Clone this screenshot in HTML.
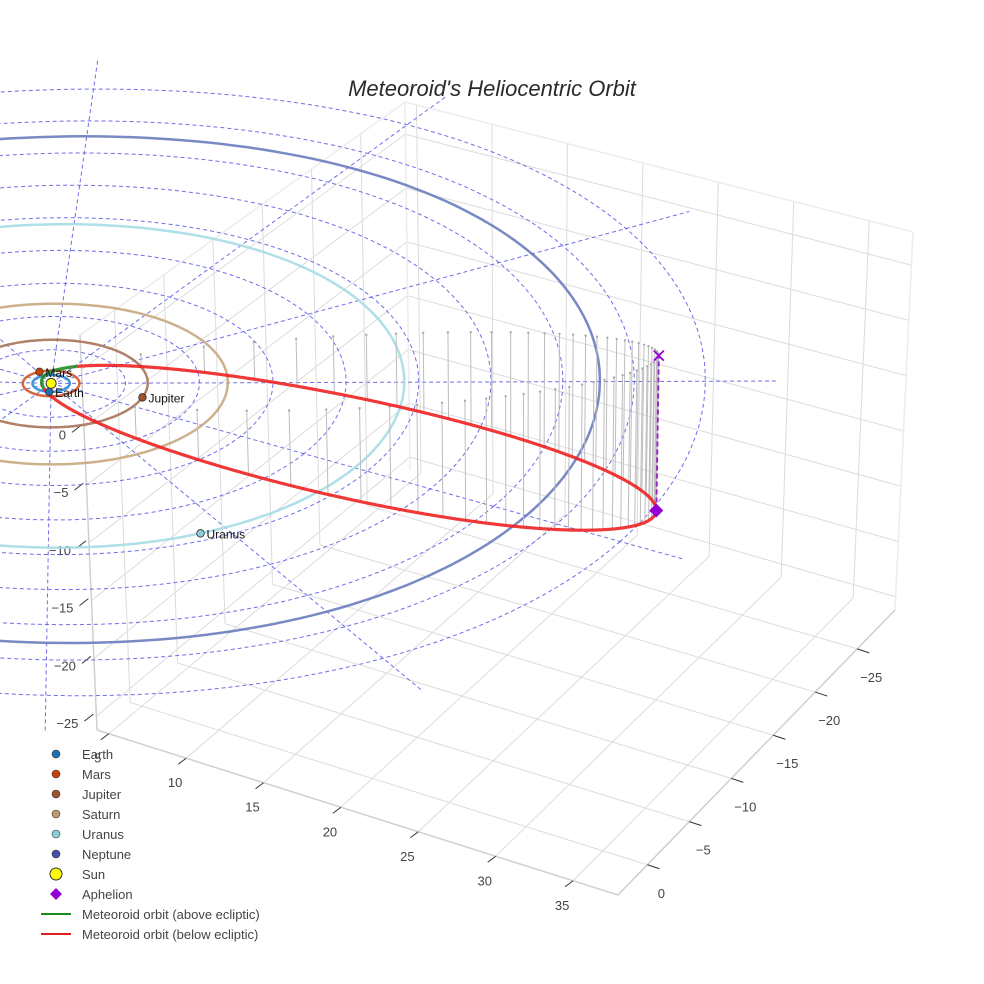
<!DOCTYPE html>
<html><head><meta charset="utf-8">
<style>
html,body{margin:0;padding:0;background:#fff;}
svg{display:block;font-family:"Liberation Sans",Arial,sans-serif;}
</style></head>
<body>
<svg id="chart" width="984" height="984" viewBox="0 0 984 984" xmlns="http://www.w3.org/2000/svg">
<rect width="984" height="984" fill="#fff"/>
<g id="walls"></g>
<g id="axes"></g>
<g id="ecl"></g>
<g id="orbits"></g>
<g id="drops"></g>
<g id="met"></g>
<g id="marks"></g>
<text x="492" y="96" text-anchor="middle" font-size="22" font-style="italic" fill="#2a2a2a">Meteoroid's Heliocentric Orbit</text>
<g id="legend"></g>
</svg>
<script>
const xTicks=[5,10,15,20,25,30,35];
const yTicks=[-25,-20,-15,-10,-5,0];
const zTicks=[-25,-20,-15,-10,-5,0,5];
const planetNames=["Earth","Mars","Jupiter","Saturn","Uranus","Neptune"];
const planetRadii=[1.0,1.52,5.2,9.54,19.2,30.07];
const planetAngles=[64,-146.5,-12.7,180,34.2,150];
const planetColors=["#1f72b2","#c8400c","#a0522d","#c09a70","#8ccbd9","#4352a8"];
const orbitColors=["#2b8ad6","#d0582a","#a8735a","#c8a880","#a6dce4","#6a7cbd"];
const eclipticRings=[4,8,12,16,20,24,28,32,36];
const eclipticSpokes=[0,30,60,90,120,150,180,210,240,270,300,330];
const meteoroidPerihelion=0.55;
const aphelionPoint=[27.3,-19.4,-13.75];
const orbitPlaneDir=[0.467,0.844,-0.264];
const dropCount=60;

const NS="http://www.w3.org/2000/svg";
const R={x0:4.24,x1:37.9,y0:-29.5,y1:3.5,z0:-26.2,z1:8};
const Cn={D:[410,470],C:[895,610],A:[97,730],B:[618,895],G:[405,102],H:[913,232],E:[80,335],F:[620,480]};
function proj(X,Y,Z){
  const u=(X-R.x0)/(R.x1-R.x0), v=(Y-R.y0)/(R.y1-R.y0), w=(Z-R.z0)/(R.z1-R.z0);
  const wD=(1-u)*(1-v), wC=u*(1-v), wA=(1-u)*v, wB=u*v;
  const f=i=>wD*Cn.D[i]+wC*Cn.C[i]+wA*Cn.A[i]+wB*Cn.B[i];
  const t=i=>wD*Cn.G[i]+wC*Cn.H[i]+wA*Cn.E[i]+wB*Cn.F[i];
  return [f(0)+w*(t(0)-f(0)), f(1)+w*(t(1)-f(1))];
}
function mk(tag,attrs,parent){const e=document.createElementNS(NS,tag);for(const k in attrs)e.setAttribute(k,attrs[k]);parent.appendChild(e);return e;}
function pathOf(pts){return pts.map((p,i)=>(i?"L":"M")+p[0].toFixed(1)+" "+p[1].toFixed(1)).join("");}
function line3(a,b,attrs,parent){const p=proj(...a),q=proj(...b);return mk("line",Object.assign({x1:p[0],y1:p[1],x2:q[0],y2:q[1]},attrs),parent);}

// walls
const walls=document.getElementById("walls");
const gs={stroke:"#dcdcdc","stroke-width":1};
xTicks.forEach(x=>{
  let l=line3([x,R.y0,R.z0],[x,R.y1,R.z0],gs,walls);
  
  
  l=line3([x,R.y0,R.z0],[x,R.y0,R.z1],gs,walls);
  
  
});
yTicks.forEach(y=>{
  let l=line3([R.x0,y,R.z0],[R.x1,y,R.z0],gs,walls);
  
  
  l=line3([R.x0,y,R.z0],[R.x0,y,R.z1],gs,walls);
  
  
});
zTicks.forEach(z=>{
  let l=line3([R.x0,R.y0,z],[R.x1,R.y0,z],gs,walls);
  
  
  l=line3([R.x0,R.y0,z],[R.x0,R.y1,z],gs,walls);
  
  
});
const es={stroke:"#ececec","stroke-width":1.5};
[[[R.x0,R.y0,R.z1],[R.x1,R.y0,R.z1]],[[R.x1,R.y0,R.z0],[R.x1,R.y0,R.z1]],[[R.x0,R.y0,R.z1],[R.x0,R.y1,R.z1]],[[R.x0,R.y0,R.z0],[R.x0,R.y0,R.z1]]].forEach(e=>{
  const l=line3(e[0],e[1],es,walls);
  
  
});

// axes
const axes=document.getElementById("axes");
const as={stroke:"#cfcfcf","stroke-width":1.5};
[[[R.x0,R.y1,R.z0],[R.x1,R.y1,R.z0]],[[R.x1,R.y0,R.z0],[R.x1,R.y1,R.z0]],[[R.x0,R.y1,R.z0],[R.x0,R.y1,R.z1]]].forEach(e=>{
  const l=line3(e[0],e[1],as,axes);
  
  
});
function tickText(p,txt,dx,dy,anchor,name){
  const t=mk("text",{x:p[0]+dx,y:p[1]+dy,"text-anchor":anchor,"font-size":13,fill:"#444"},axes);
  t.textContent=txt;
  
  
}
function fmt(v){return v<0?"\u2212"+Math.abs(v):String(v);}
xTicks.forEach(x=>{
  const p=proj(x,R.y1,R.z0);
  const d=mk("line",{x1:p[0],y1:p[1],x2:p[0]-8,y2:p[1]+6,stroke:"#333","stroke-width":1},axes);
  
  
  tickText(p,fmt(x),-11,29,"middle",'x-tick-label');
});
yTicks.forEach(y=>{
  const p=proj(R.x1,y,R.z0);
  const d=mk("line",{x1:p[0],y1:p[1],x2:p[0]+12,y2:p[1]+4,stroke:"#333","stroke-width":1},axes);
  
  
  tickText(p,fmt(y),14,33,"middle",'y-tick-label');
});
zTicks.filter(z=>z<=0).forEach(z=>{
  const p=proj(R.x0,R.y1,z);
  const d=mk("line",{x1:p[0]-3,y1:p[1]-2,x2:p[0]-12,y2:p[1]+5,stroke:"#333","stroke-width":1},axes);
  
  
  tickText(p,fmt(z),-18,12,"end",'z-tick-label');
});

// ecliptic grid
const ecl=document.getElementById("ecl");
const ds={fill:"none",stroke:"#5555e6","stroke-width":1,"stroke-dasharray":"4,3",opacity:0.85};
eclipticRings.forEach(r=>{
  const pts=[];for(let i=0;i<=180;i++){const a=i/180*2*Math.PI;pts.push(proj(r*Math.cos(a),r*Math.sin(a),0));}
  const p=mk("path",Object.assign({d:pathOf(pts)},ds),ecl);
  
  
});
eclipticSpokes.forEach(a=>{
  const rr=40,t=a*Math.PI/180;
  const p=mk("path",Object.assign({d:pathOf([proj(0,0,0),proj(rr*Math.cos(t),rr*Math.sin(t),0)])},ds),ecl);
  
  
});

// planet orbits
const orbits=document.getElementById("orbits");
planetRadii.forEach((r,k)=>{
  const pts=[];for(let i=0;i<=240;i++){const a=i/240*2*Math.PI;pts.push(proj(r*Math.cos(a),r*Math.sin(a),0));}
  const p=mk("path",{d:pathOf(pts),fill:"none",stroke:orbitColors[k],"stroke-width":2.5,opacity:0.9},orbits);
  
  
});

// meteoroid orbit
const Q=Math.hypot(...aphelionPoint);
const q=meteoroidPerihelion;
const a=(Q+q)/2, e=(Q-q)/(Q+q), b=a*Math.sqrt(1-e*e);
const pH=aphelionPoint.map(c=>-c/Q);
function orbitAt(E){const c=a*(Math.cos(E)-e), s=b*Math.sin(E);return [0,1,2].map(i=>c*pH[i]+s*orbitPlaneDir[i]);}
const drops=document.getElementById("drops");
for(let k=0;k<dropCount;k++){
  const M=2*Math.PI*k/dropCount;let E=M;for(let it=0;it<60;it++)E=M+e*Math.sin(E);
  const P=orbitAt(E);
  const l=line3(P,[P[0],P[1],0],{stroke:"#bdbdbd","stroke-width":1},drops);
  
  
  const t=proj(P[0],P[1],0);
  const c=mk("circle",{cx:t[0],cy:t[1],r:1.2,fill:"#aaa"},drops);
  
  
}
const met=document.getElementById("met");
let seg=[],segUp=null;
function flush(){if(seg.length>1){const p=mk("path",{d:pathOf(seg),fill:"none",stroke:segUp?"#1a8a1a":"#ee1c1c","stroke-width":3.2,opacity:0.88,"stroke-linejoin":"round"},met);
  
  }}
for(let i=0;i<=1440;i++){
  const E=i/1440*2*Math.PI;const P=orbitAt(E);const up=P[2]>=0;const s=proj(...P);
  if(segUp!==null&&up!==segUp){seg.push(s);flush();seg=[seg[seg.length-1]];}
  segUp=up;seg.push(s);
}
flush();

// markers
const marks=document.getElementById("marks");
const ap=proj(...aphelionPoint), ax=proj(aphelionPoint[0],aphelionPoint[1],0);
let al=mk("line",{x1:ap[0],y1:ap[1],x2:ax[0],y2:ax[1],stroke:"#9a22c8","stroke-width":2,"stroke-dasharray":"5,3"},marks);


let xm=mk("path",{d:`M${ax[0]-5} ${ax[1]-5}L${ax[0]+5} ${ax[1]+5}M${ax[0]+5} ${ax[1]-5}L${ax[0]-5} ${ax[1]+5}`,stroke:"#9400d3","stroke-width":1.8},marks);


let dm=mk("path",{d:`M${ap[0]} ${ap[1]-7}L${ap[0]+7} ${ap[1]}L${ap[0]} ${ap[1]+7}L${ap[0]-7} ${ap[1]}Z`,fill:"#9400d3"},marks);


planetRadii.forEach((r,k)=>{
  const t=planetAngles[k]*Math.PI/180;const p=proj(r*Math.cos(t),r*Math.sin(t),0);
  const c=mk("circle",{cx:p[0],cy:p[1],r:3.8,fill:planetColors[k],stroke:"#333","stroke-width":0.8},marks);
  
  
  const tx=mk("text",{x:p[0]+6,y:p[1]+5,"font-size":12,fill:"#111"},marks);
  tx.textContent=planetNames[k];
  
  
});
const sp=proj(0,0,0);
let sun=mk("circle",{cx:sp[0],cy:sp[1],r:5,fill:"#ffff00",stroke:"#333","stroke-width":1},marks);



// legend
const legendLabels=["Earth","Mars","Jupiter","Saturn","Uranus","Neptune","Sun","Aphelion","Meteoroid orbit (above ecliptic)","Meteoroid orbit (below ecliptic)"];
const leg=document.getElementById("legend");
legendLabels.forEach((lab,i)=>{
  const y=754+i*20;
  const g=mk("g",{},leg);
  
  
  let sym;
  if(i<6){sym=mk("circle",{cx:56,cy:y,r:4,fill:planetColors[i],stroke:"#333","stroke-width":0.6},g);}
  else if(i===6){sym=mk("circle",{cx:56,cy:y,r:6,fill:"#ffff00",stroke:"#333","stroke-width":1},g);}
  else if(i===7){sym=mk("path",{d:`M56 ${y-6}L62 ${y}L56 ${y+6}L50 ${y}Z`,fill:"#9400d3"},g);}
  else {sym=mk("line",{x1:41,y1:y,x2:71,y2:y,stroke:i===8?"#1a8a1a":"#e02020","stroke-width":2},g);}
  
  
  const t=mk("text",{x:82,y:y+5,"font-size":13,fill:"#444"},g);
  t.textContent=lab;
  
  
});
</script>
</body></html>
